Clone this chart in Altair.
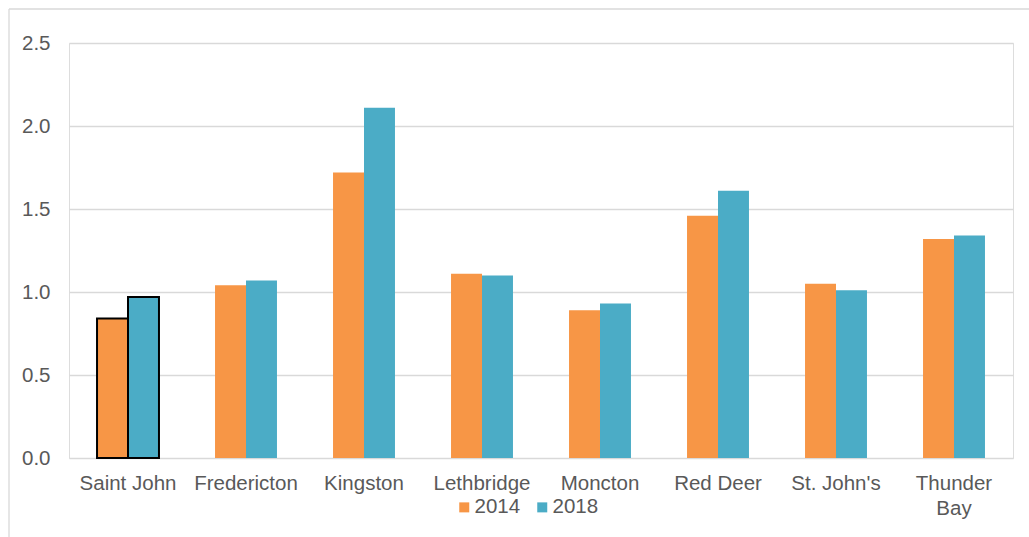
import altair as alt
import pandas as pd

cities = ["Saint John", "Fredericton", "Kingston", "Lethbridge", "Moncton",
          "Red Deer", "St. John's", "Thunder Bay"]
years = ["2014", "2018"]
v2014 = [0.84, 1.04, 1.72, 1.11, 0.89, 1.46, 1.05, 1.32]
v2018 = [0.97, 1.07, 2.11, 1.10, 0.93, 1.61, 1.01, 1.34]
colors = ["#F79646", "#4BACC6"]
y_ticks = [0.0, 0.5, 1.0, 1.5, 2.0, 2.5]

rows = []
for c, a, b in zip(cities, v2014, v2018):
    rows.append({"city": c, "year": "2014", "value": a})
    rows.append({"city": c, "year": "2018", "value": b})
df = pd.DataFrame(rows)

FONT = "Liberation Sans"
TXT = "#595959"
GRID = "#d9d9d9"

bars = alt.Chart(df).mark_bar(stroke="black").encode(
    x=alt.X("city:N", sort=cities, title=None,
            scale=alt.Scale(paddingInner=0.475, paddingOuter=0.2375),
            axis=alt.Axis(labelAngle=0, domain=False, ticks=False,
                          labelFont=FONT, labelFontSize=20.5, labelColor=TXT,
                          labelPadding=15, labelLineHeight=25,
                          labelExpr="datum.label == 'Thunder Bay' ? ['Thunder', 'Bay'] : datum.label")),
    xOffset=alt.XOffset("year:N", sort=years),
    y=alt.Y("value:Q", title=None,
            scale=alt.Scale(domain=[0, 2.5], nice=False),
            axis=alt.Axis(values=y_ticks, format=".1f", domain=False, ticks=False,
                          grid=True, gridColor=GRID, gridWidth=1.3,
                          labelFont=FONT, labelFontSize=20.5, labelColor=TXT,
                          labelPadding=19)),
    color=alt.Color("year:N", sort=years,
                    scale=alt.Scale(domain=years, range=colors),
                    legend=alt.Legend(title=None, orient="none", direction="horizontal",
                                      legendX=385, legendY=454, padding=0,
                                      symbolType="square", symbolSize=100,
                                      symbolStrokeWidth=0, labelOffset=0,
                                      columnPadding=11,
                                      labelFont=FONT, labelFontSize=20.5,
                                      labelColor=TXT)),
    strokeWidth=alt.condition(alt.datum.city == "Saint John", alt.value(2), alt.value(0)),
)

frame = pd.DataFrame({"k": [0]})
left_border = alt.Chart(frame).mark_rule(color=GRID, strokeWidth=1.3).encode(
    x=alt.value(-60), y=alt.value(-34), y2=alt.value(520))
top_border = alt.Chart(frame).mark_rule(color=GRID, strokeWidth=1.3).encode(
    x=alt.value(-60), x2=alt.value(990), y=alt.value(-34))

chart = alt.layer(bars, left_border, top_border).properties(
    width=944, height=415,
    autosize=alt.AutoSizeParams(type="none"),
    padding={"left": 69, "top": 43, "right": 16, "bottom": 79},
).configure_view(stroke=None).configure(background="white")

chart.save("out.html", embed_options={"renderer": "svg", "actions": False})
